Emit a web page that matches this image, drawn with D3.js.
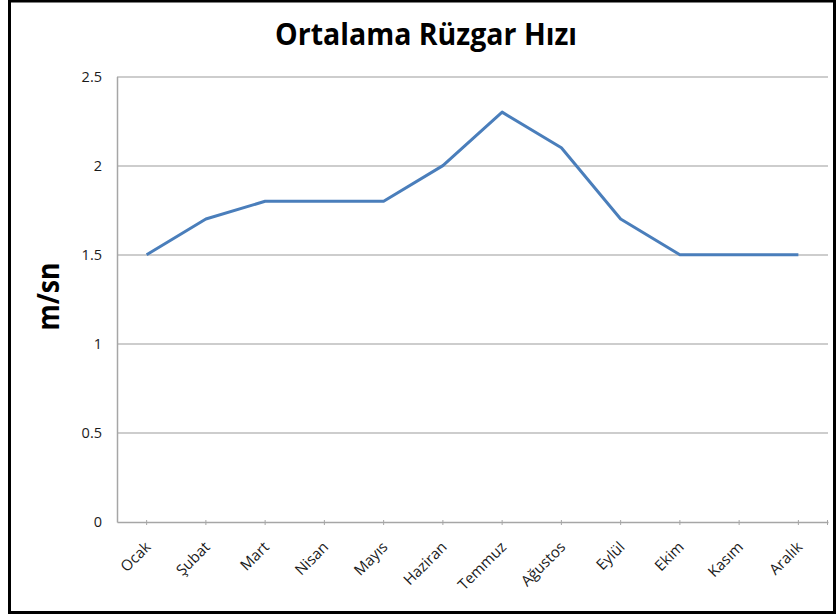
<!DOCTYPE html>
<html>
<head>
<meta charset="utf-8">
<script src="https://cdn.jsdelivr.net/npm/d3@7"></script>
<style>
  body { margin: 0; background: #fff; }
  svg { display: block; }
</style>
</head>
<body>
<svg id="svg" width="836" height="615"></svg>
<script>
const months = ['Ocak', 'Şubat', 'Mart', 'Nisan', 'Mayıs', 'Haziran',
                'Temmuz', 'Ağustos', 'Eylül', 'Ekim', 'Kasım', 'Aralık'];
const speed = [1.5, 1.7, 1.8, 1.8, 1.8, 2.0, 2.3, 2.1, 1.7, 1.5, 1.5, 1.5];
const yTicks = [0, 0.5, 1, 1.5, 2, 2.5];

const svg = d3.select('#svg');
const font = "'Open Sans', 'Noto Sans', sans-serif";
const padding = {top: 76.5, right: 8, bottom: 93, left: 117};
const chartArea = {
    width: 836 - padding.left - padding.right,
    height: 615 - padding.top - padding.bottom
};

// frame
svg.append('path')
    .attr('d', 'M9.5,612.5 V1 H834.5 V612.5 Z')
    .attr('fill', 'none')
    .attr('stroke', '#000')
    .attr('stroke-width', 3);

const xScale = d3.scaleBand()
    .domain(months)
    .range([0, chartArea.width]);
const yScale = d3.scaleLinear()
    .domain([0, 2.5])
    .range([chartArea.height, 0]);

const g = svg.append('g')
    .attr('transform', 'translate(' + padding.left + ',' + padding.top + ')');

// gridlines
g.selectAll('line.grid').data(yTicks.filter(d => d > 0))
    .enter().append('line')
    .attr('x1', 0).attr('x2', chartArea.width)
    .attr('y1', d => Math.round(yScale(d)) + 0.5)
    .attr('y2', d => Math.round(yScale(d)) + 0.5)
    .attr('stroke', '#bdbdbd')
    .attr('stroke-width', 1.5);

// y axis
const yAxis = g.append('g')
    .call(d3.axisLeft(yScale).tickValues(yTicks).tickSize(0).tickPadding(15)
        .tickFormat(d => d));
yAxis.select('.domain').attr('stroke', '#a6a6a6').attr('stroke-width', 1.5);
yAxis.selectAll('text')
    .attr('font-family', font)
    .attr('font-size', 14.5)
    .attr('fill', '#1a1a1a');

// x axis
const xAxis = g.append('g')
    .attr('transform', 'translate(0,' + chartArea.height + ')')
    .call(d3.axisBottom(xScale).tickSize(5).tickSizeOuter(0));
xAxis.select('.domain').attr('stroke', '#a6a6a6').attr('stroke-width', 1.5);
xAxis.selectAll('.tick line').attr('y1', -2).attr('y2', 3).attr('stroke', '#a6a6a6');
xAxis.append('line')
    .attr('x1', chartArea.width - 0.5).attr('x2', chartArea.width - 0.5)
    .attr('y1', -2).attr('y2', 3)
    .attr('stroke', '#a6a6a6');
xAxis.selectAll('.tick text').remove();

// rotated month labels
g.selectAll('text.month').data(months)
    .enter().append('text')
    .attr('class', 'month')
    .attr('transform', d => 'translate(' + (xScale(d) + xScale.bandwidth() / 2 + 5) + ','
        + (chartArea.height + 26) + ') rotate(-45)')
    .attr('text-anchor', 'end')
    .attr('font-family', font)
    .attr('font-size', 15)
    .attr('fill', '#1a1a1a')
    .text(d => d);

// line
const line = d3.line()
    .x((d, i) => xScale(months[i]) + xScale.bandwidth() / 2)
    .y(d => yScale(d));
g.append('path')
    .datum(speed)
    .attr('d', line)
    .attr('fill', 'none')
    .attr('stroke', '#4a7ebb')
    .attr('stroke-width', 3)
    .attr('stroke-linejoin', 'round');

// title
svg.append('text')
    .attr('x', 426)
    .attr('y', 45)
    .attr('text-anchor', 'middle')
    .attr('font-family', font)
    .attr('font-weight', 'bold')
    .attr('font-size', 30)
    .attr('textLength', 302)
    .attr('lengthAdjust', 'spacingAndGlyphs')
    .attr('fill', '#000')
    .text('Ortalama Rüzgar Hızı');

// y label
svg.append('text')
    .attr('transform', 'translate(58.5,296.5) rotate(-90)')
    .attr('text-anchor', 'middle')
    .attr('font-family', font)
    .attr('font-weight', 'bold')
    .attr('font-size', 31)
    .attr('textLength', 68)
    .attr('lengthAdjust', 'spacingAndGlyphs')
    .attr('fill', '#000')
    .text('m/sn');
</script>
</body>
</html>
